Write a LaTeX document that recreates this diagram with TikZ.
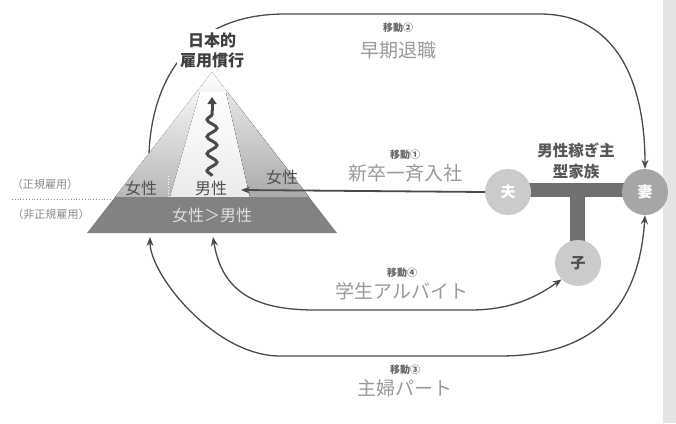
\documentclass[tikz,border=0pt]{standalone}
\usepackage{fontspec}
\setmainfont{Noto Sans CJK JP}
\usetikzlibrary{arrows.meta,decorations.pathmorphing}
\definecolor{arrcol}{HTML}{4A4A4A}
\definecolor{lblgray}{HTML}{8A8A8A}
\definecolor{biggray}{HTML}{9A9A9A}
\definecolor{movcol}{HTML}{666666}
\definecolor{bandcol}{HTML}{828282}
\definecolor{tbarcol}{HTML}{707070}
\definecolor{husc}{HTML}{CBCBCB}
\definecolor{wifec}{HTML}{A6A6A6}
\definecolor{stripcol}{HTML}{E4E4E4}
\definecolor{pyrtext}{HTML}{505050}
\begin{document}
\begin{tikzpicture}[x=1pt,y=-1pt,
  arr/.style={draw=arrcol, line width=1.3pt, -{Stealth[length=9pt,width=7pt]}},
  arrboth/.style={draw=arrcol, line width=1.3pt, {Stealth[length=9pt,width=7pt]}-{Stealth[length=9pt,width=7pt]}},
  circ/.style={circle, minimum size=46pt, inner sep=0pt, font=\fontsize{15}{15}\selectfont\bfseries, text=white},
  movlab/.style={font=\fontsize{10}{10}\selectfont\bfseries, text=movcol, inner sep=1pt},
  biglab/.style={font=\fontsize{19}{19}\selectfont, text=biggray, inner sep=1pt},
  pyrlab/.style={font=\fontsize{16}{16}\selectfont, text=pyrtext, inner sep=1pt},
  sidelab/.style={font=\fontsize{11}{11}\selectfont, text=lblgray, inner sep=1pt}]
\useasboundingbox (0,0) rectangle (676,423);
\fill[white] (0,0) rectangle (676,423);
\fill[stripcol] (663,0) rectangle (676,423);

% pyramid
\fill[top color=white, bottom color=black!28] (212,72) -- (309,197) -- (115,197) -- cycle;
\fill[top color=white, bottom color=black!8] (170,197) -- (250,197) -- (226,92) -- (200,92) -- cycle;
\fill[top color=black!10, bottom color=black!33] (250,197) -- (309,197) -- (227.5,92) -- (226,92) -- cycle;
\fill[bandcol] (87,233) -- (337,233) -- (309,197) -- (115,197) -- cycle;
\draw[white, dotted, line width=0.8pt] (168,176) -- (168,197);

\node[pyrlab] (fl) at (141,188) {女性};
\node[pyrlab] (male) at (211,188) {男性};
\node[pyrlab] (fr) at (282,177) {女性};
\node[pyrlab, text=black!12] (band) at (212,215) {女性＞男性};

% wavy arrow
\draw[arrcol, line width=3pt, decorate, decoration={snake, amplitude=5pt, segment length=17pt}] (212,176) -- (212,110);
\draw[arrcol, line width=3pt, -{Triangle[length=7pt,width=9pt]}] (212,111) -- (212,97);

% side labels
\node[sidelab] (reg) at (45,184) {（正規雇用）};
\node[sidelab] (nonreg) at (51,214) {（非正規雇用）};
\draw[lblgray, dotted, line width=0.8pt] (12,199) -- (112,199);

% family
\fill[tbarcol] (525,183) rectangle (625,197);
\fill[tbarcol] (570,190) rectangle (585,245);
\node[circ, fill=husc] (hus) at (508,192) {夫};
\node[circ, fill=wifec] (wife) at (645,192) {妻};
\node[circ, fill=husc, text=pyrtext] (child) at (578,263) {子};
\node[font=\fontsize{15.5}{21}\selectfont\bfseries, text=black!65, align=center] (fam) at (576,161) {男性稼ぎ主\\型家族};

% coordinates on pyramid
\coordinate (p2) at (149,153);
\coordinate (p1) at (241,190);
\coordinate (p3) at (150,237);
\coordinate (p4) at (213,237);

% move 2
\draw[arr] (p2) .. controls (151,100) and (175,14) .. (285,14) -- (540,14) .. controls (615,14) and (645,80) .. (wife.north);
\node[font=\fontsize{16}{20}\selectfont\bfseries, text=black!75, align=center, fill=white, inner sep=3pt] (title) at (212,50) {日本的\\雇用慣行};
% move 1
\draw[arr, line width=1.8pt] (hus.west) -- (p1);
% move 3
\draw[arrboth] (wife.south) .. controls (640,290) and (610,356) .. (500,356) -- (280,356) .. controls (215,356) and (150,275) .. (p3);
% move 4
\draw[arrboth] (p4) .. controls (222,292) and (255,310) .. (315,310) -- (470,310) .. controls (510,310) and (535,298) .. (child.south west);

% labels
\node[movlab] (m2) at (398,28) {移動②};
\node[biglab] (t2) at (398,50) {早期退職};
\node[movlab] (m1) at (405,155) {移動①};
\node[biglab] (t1) at (405,173) {新卒一斉入社};
\node[movlab] (m4) at (402,273) {移動④};
\node[biglab] (t4) at (402,291) {学生アルバイト};
\node[movlab] (m3) at (405,370) {移動③};
\node[biglab] (t3) at (405,388) {主婦パート};
\end{tikzpicture}
\end{document}
